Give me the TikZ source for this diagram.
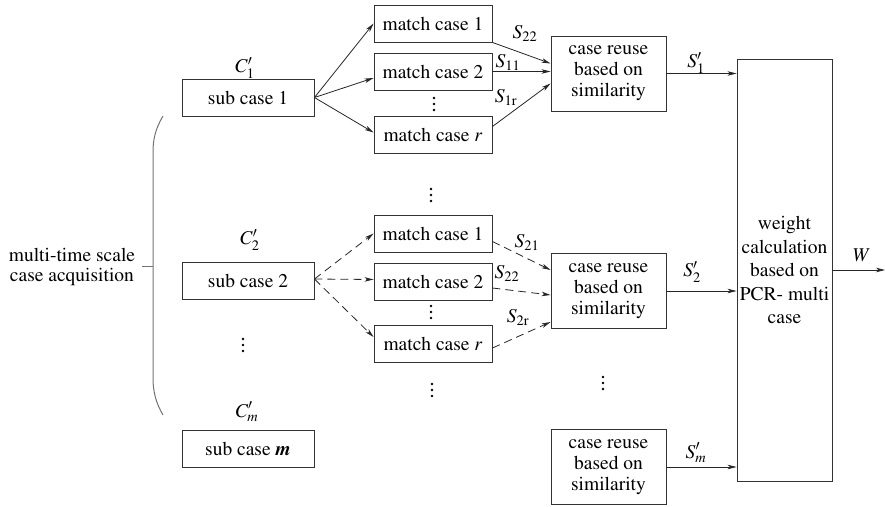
\documentclass[tikz,border=0pt]{standalone}
\usepackage[T1]{fontenc}
\usepackage{mathptmx}
\usetikzlibrary{arrows.meta,calc}

\begin{document}
\begin{tikzpicture}[x=1pt,y=-1pt,
  every node/.style={font=\fontsize{19.5}{21}\selectfont, text=black},
  box/.style={draw=black!80, line width=0.9pt, inner sep=0pt, align=center},
  subbox/.style={box, minimum width=132pt, minimum height=37pt},
  matchbox/.style={box, minimum width=118pt, minimum height=37pt},
  reusebox/.style={box, minimum width=115pt, minimum height=75pt},
  link/.style={draw=black!85, line width=0.8pt, -{Stealth[length=9pt,width=4.5pt,inset=2.5pt]}},
  dlink/.style={link, dash pattern=on 8pt off 5pt},
  lab/.style={inner sep=0pt},
  vd/.pic={\fill (0,-6) circle (1.3pt); \fill (0,0) circle (1.3pt); \fill (0,6) circle (1.3pt);}
]
\useasboundingbox (0,0) rectangle (885,506);

% sub cases
\node[subbox] (sub1) at (248,97.5) {sub case 1};
\node[subbox] (sub2) at (248,281) {sub case 2};
\node[subbox] (subm) at (248,449) {sub case \textbf{\textit{m}}};
\node[lab] (c1) at (245,68) {$C'_1$};
\node[lab] (c2) at (250,240) {$C'_2$};
\node[lab] (cm) at (247,412) {$C'_m$};
\pic at (243,345) {vd};

% brace and its label
\node[align=center, font=\fontsize{19.5}{20}\selectfont] (acq) at (72,267) {multi-time scale\\case acquisition};
\coordinate (tick) at (142,266);
\coordinate (brace) at (153,266);
\draw[black!55, line width=1pt] (163,116) .. controls (156,128) and (153,138) .. (153,152)
  -- (153,378) .. controls (153,392) and (156,403) .. (163,415);
\draw[black!55, line width=1pt] (tick) -- (brace);

% matching, first sub case
\node[matchbox] (m11) at (433,23.5) {match case 1};
\node[matchbox] (m12) at (433,71.5) {match case 2};
\node[matchbox] (m13) at (433,134.5) {match case \textit{r}};
\pic at (434,104) {vd};

% matching, second sub case
\node[matchbox] (m21) at (433,233.5) {match case 1};
\node[matchbox] (m22) at (433,281.5) {match case 2};
\node[matchbox] (m23) at (433,344) {match case \textit{r}};
\pic at (431,195) {vd};
\pic at (431,312) {vd};
\pic at (432,390) {vd};

% case reuse
\node[reusebox] (cr1) at (608.5,73.5) {case reuse\\based on\\similarity};
\node[reusebox] (cr2) at (608.5,291) {case reuse\\based on\\similarity};
\node[reusebox] (crm) at (608.5,467) {case reuse\\based on\\similarity};
\pic at (603,383) {vd};

% weight calculation
\node[box, minimum width=95pt, minimum height=422pt, font=\fontsize{19.5}{23.5}\selectfont] (wc) at (784.5,270) {weight\\calculation\\based on\\PCR- multi\\case};
\coordinate (wout) at (885,270);

% connectors, first sub case
\draw[link] (sub1.east) -- (m11.west);
\draw[link] (sub1.east) -- ([yshift=-6.5pt]m12.west);
\draw[link] (sub1.east) -- ([yshift=2pt]m13.west);
\draw[link] (m11.south east) -- ([yshift=10pt]cr1.west);
\draw[link] (m12.east) -- (m12.east -| cr1.west);
\draw[link] ([yshift=8pt]m13.east) -- ([yshift=-10pt]cr1.west);

% connectors, second sub case
\draw[dlink] ([yshift=2pt]sub2.east) -- (m21.west);
\draw[dlink] ([yshift=2pt]sub2.east) -- ([yshift=2pt]m22.west);
\draw[dlink] ([yshift=2pt]sub2.east) -- ([yshift=7pt]m23.west);
\draw[dlink] ([yshift=-8pt]m21.east) -- ([yshift=21pt]cr2.west);
\draw[dlink] ([yshift=-6.5pt]m22.east) -- ([yshift=-4pt]cr2.west);
\draw[dlink] ([yshift=-4pt]m23.east) -- ([yshift=-31pt]cr2.west);

% into the weight calculation
\draw[link] (cr1.east) -- (cr1.east -| wc.west);
\draw[link] (cr2.east) -- (cr2.east -| wc.west);
\draw[link] (crm.east) -- (crm.east -| wc.west);
\draw[link] (wc.east |- wout) -- (wout);

% similarity labels
\node[lab] (s22a) at (525,33) {$S_{22}$};
\node[lab] (s11) at (508,62) {$S_{11}$};
\node[lab] (s1r) at (506,97) {$S_{1\mathrm{r}}$};
\node[lab] (s21) at (527,242) {$S_{21}$};
\node[lab] (s22b) at (507,273) {$S_{22}$};
\node[lab] (s2r) at (518,317) {$S_{2\mathrm{r}}$};
\node[lab] (sp1) at (696,63) {$S'_1$};
\node[lab] (sp2) at (692,272) {$S'_2$};
\node[lab] (spm) at (696,453) {$S'_m$};
\node[lab] (wl) at (862,255) {$W$};
\end{tikzpicture}
\end{document}
